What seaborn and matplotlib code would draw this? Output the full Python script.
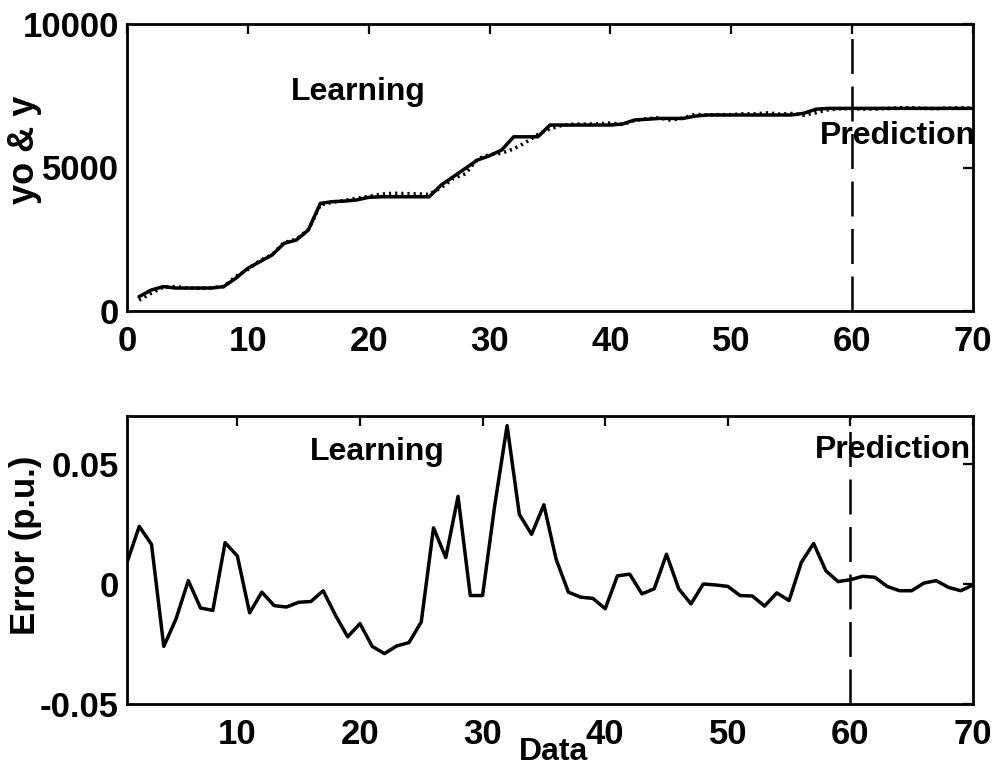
import numpy as np
import pandas as pd
import matplotlib
matplotlib.use("Agg")
import matplotlib.pyplot as plt
import seaborn as sns

# Sample index
data_idx = list(range(1, 71))

# Measured output yo (solid)
yo_vals = [500, 730, 850, 800, 800, 800, 800, 850, 1140, 1490,
           1720, 1950, 2360, 2470, 2820, 3750, 3810, 3830, 3870, 3960,
           3980, 3980, 3980, 3980, 3980, 4390, 4680, 4970, 5260, 5410,
           5610, 6070, 6070, 6070, 6480, 6480, 6480, 6480, 6480, 6480,
           6515, 6655, 6680, 6710, 6710, 6710, 6790, 6830, 6830, 6830,
           6830, 6830, 6830, 6830, 6830, 6890, 7030, 7060, 7060, 7060,
           7060, 7060, 7060, 7060, 7060, 7060, 7060, 7060, 7060, 7060]

# Model output y (dotted)
y_vals = [380, 620, 830, 850, 800, 790, 810, 850, 1200, 1450,
          1760, 1960, 2380, 2500, 2830, 3700, 3790, 3850, 3930, 3990,
          4070, 4100, 4090, 4080, 4060, 4300, 4620, 4780, 5300, 5450,
          5500, 5650, 5880, 6150, 6350, 6470, 6510, 6510, 6520, 6550,
          6500, 6640, 6700, 6730, 6650, 6720, 6850, 6830, 6840, 6840,
          6870, 6870, 6900, 6860, 6880, 6820, 6910, 7010, 7050, 7050,
          7040, 7040, 7060, 7080, 7080, 7060, 7050, 7070, 7080, 7060]

# Error in per-unit
err_vals = [0.009, 0.024, 0.0165, -0.026, -0.0145, 0.0014, -0.010, -0.011, 0.0172, 0.0117,
            -0.012, -0.0034, -0.009, -0.0096, -0.0076, -0.0073, -0.0028, -0.013, -0.022, -0.0165,
            -0.026, -0.029, -0.0258, -0.0244, -0.0158, 0.0234, 0.011, 0.0365, -0.0048, -0.0048,
            0.033, 0.066, 0.029, 0.0207, 0.033, 0.0103, -0.0034, -0.0055, -0.006, -0.0103,
            0.0034, 0.0041, -0.0041, -0.002, 0.0124, -0.002, -0.0083, 0.0, -0.0004, -0.001,
            -0.0048, -0.005, -0.0092, -0.0037, -0.0069, 0.009, 0.0169, 0.0055, 0.001, 0.0018,
            0.0032, 0.0028, -0.001, -0.0028, -0.0028, 0.0004, 0.0014, -0.0014, -0.0028, -0.0004]

split_at = 60

top_xticks = [0, 10, 20, 30, 40, 50, 60, 70]
top_yticks = [0, 5000, 10000]
bot_xticks = [10, 20, 30, 40, 50, 60, 70]
bot_yticks = [-0.05, 0, 0.05]
bot_yticklabels = ["-0.05", "0", "0.05"]

df = pd.DataFrame({"Data": data_idx, "yo": yo_vals, "y": y_vals, "err": err_vals})

sns.set_style("white")
plt.rcParams["font.family"] = ["Liberation Sans", "DejaVu Sans"]
plt.rcParams["font.weight"] = "bold"
plt.rcParams["text.color"] = "black"
plt.rcParams["axes.labelcolor"] = "black"

fig = plt.figure(figsize=(9.96, 7.69), dpi=100)
W, H = 996, 769
ax1 = fig.add_axes([127 / W, 1 - 311 / H, 846 / W, 287 / H])
ax2 = fig.add_axes([127 / W, 1 - 704 / H, 846 / W, 288 / H])

lw = 2.5
sns.lineplot(data=df, x="Data", y="yo", ax=ax1, color="black", linewidth=lw)
sns.lineplot(data=df, x="Data", y="y", ax=ax1, color="black", linewidth=2.6,
             linestyle=(0, (0.6, 1.1)))
sns.lineplot(data=df, x="Data", y="err", ax=ax2, color="black", linewidth=lw)

for ax in (ax1, ax2):
    ax.axvline(split_at, color="black", linewidth=1.8, linestyle=(0, (14, 5)))
    for s in ax.spines.values():
        s.set_visible(True)
        s.set_color("black")
        s.set_linewidth(2.0)
    ax.tick_params(direction="in", length=7, width=1.6, top=True, right=True,
                   labelsize=25, colors="black")
    ax.set_xlabel("")
    ax.set_ylabel("")

ax1.set_xlim(0, 70)
ax1.set_ylim(0, 10000)
ax1.set_xticks(top_xticks)
ax1.set_xticklabels([str(t) for t in top_xticks], fontweight="bold")
ax1.set_yticks(top_yticks)
ax1.set_yticklabels([str(t) for t in top_yticks], fontweight="bold")
ax1.tick_params(axis="x", pad=10)
ax1.tick_params(axis="y", pad=6)

ax2.set_xlim(1, 70)
ax2.set_ylim(-0.05, 0.07)
ax2.set_xticks(bot_xticks)
ax2.set_xticklabels([str(t) for t in bot_xticks], fontweight="bold")
ax2.set_yticks(bot_yticks)
ax2.set_yticklabels(bot_yticklabels, fontweight="bold")
ax2.tick_params(axis="x", pad=10)
ax2.tick_params(axis="y", pad=6)

txt_kw = dict(fontsize=23, fontweight="bold", color="black", va="baseline")
ax1.text(13.6, 7350, "Learning", ha="left", **txt_kw)
ax1.text(57.3, 5820, "Prediction", ha="left", **txt_kw)
ax2.text(15.9, 0.0517, "Learning", ha="left", **txt_kw)
ax2.text(57.1, 0.0525, "Prediction", ha="left", **txt_kw)

fig.text(25 / W, 1 - 150 / H, "yo & y", rotation=90, ha="center", va="center",
         fontsize=26, fontweight="bold", color="black")
fig.text(25 / W, 1 - 545 / H, "Error (p.u.)", rotation=90, ha="center", va="center",
         fontsize=25, fontweight="bold", color="black")
fig.text(553 / W, 1 - 760 / H, "Data", ha="center", va="baseline",
         fontsize=23, fontweight="bold", color="black")

fig.savefig("out.png", dpi=100, facecolor="white")
